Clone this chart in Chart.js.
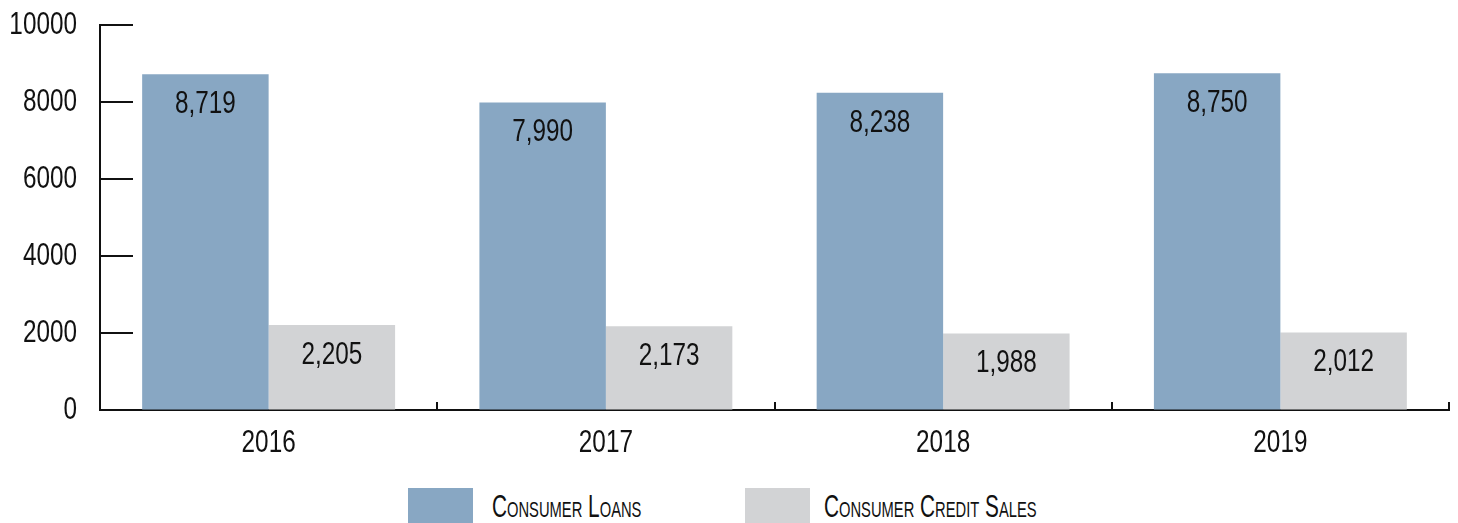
<!DOCTYPE html>
<html>
<head>
<meta charset="utf-8">
<script src="https://cdn.jsdelivr.net/npm/chart.js@4/dist/chart.umd.min.js"></script>
<style>
  html, body { margin: 0; padding: 0; background: #fff; overflow: hidden; }
  #wrap { position: relative; width: 1458px; height: 523px; }
  #holder { position: absolute; left: 0; top: 0; width: 1458px; height: 488px; }
  #legend { position: absolute; left: 0; top: 488px; width: 1458px; height: 35px; }
  .item { position: absolute; top: 0; height: 35px; }
  .box { position: absolute; left: 0; top: 0; width: 65px; height: 40px; }
  .txt { position: absolute; top: 0; line-height: 38px; white-space: nowrap;
         font-family: 'Liberation Sans', Arial, sans-serif;
         font-size: 31px; font-variant: small-caps; color: #111;
         transform: scaleX(0.67); transform-origin: left center; }
</style>
</head>
<body>
<div id="wrap">
  <div id="holder"><canvas id="chart"></canvas></div>
  <div id="legend"></div>
</div>
<script>
'use strict';
/*------------------------------------*\
     Données
\*------------------------------------*/
var annees = ['2016', '2017', '2018', '2019'];
var pretsConso = [8719, 7990, 8238, 8750];
var ventesCredit = [2205, 2173, 1988, 2012];
var nomsSeries = ['Consumer Loans', 'Consumer Credit Sales'];
var couleurs = ['#88a7c3', '#d2d3d5'];
var ticksY = [0, 2000, 4000, 6000, 8000, 10000];

var police = "'Liberation Sans', Arial, sans-serif";
var serrage = 0.76; // pas de police condensée : on resserre le texte

/*------------------------------------*\
     Plugin : texte resserré horizontalement
\*------------------------------------*/
var texteEtroit = {
  id: 'texteEtroit',
  beforeInit: function(chart) {
    var ctx = chart.ctx;
    var fill = ctx.fillText.bind(ctx);
    ctx.fillText = function(txt, x, y, maxW) {
      ctx.save();
      ctx.translate(x, y);
      ctx.scale(serrage, 1);
      if (maxW !== undefined) {
        fill(txt, 0, 0, maxW / serrage);
      } else {
        fill(txt, 0, 0);
      }
      ctx.restore();
    };
  }
};

/*------------------------------------*\
     Plugin : petits traits vers l'intérieur
\*------------------------------------*/
var traitsAxes = {
  id: 'traitsAxes',
  afterDraw: function(chart) {
    var ctx = chart.ctx;
    var y = chart.scales.y;
    var x = chart.scales.x;
    ctx.save();
    ctx.strokeStyle = '#111';
    ctx.lineWidth = 2;
    ctx.beginPath();
    ticksY.forEach(function(v) {
      var py = Math.round(y.getPixelForValue(v));
      ctx.moveTo(x.left, py);
      ctx.lineTo(x.left + 33, py);
    });
    // séparations entre années
    for (var i = 1; i <= annees.length; i++) {
      var px = Math.round(x.getPixelForValue(i - 0.5));
      ctx.moveTo(px, y.bottom);
      ctx.lineTo(px, y.bottom - 8);
    }
    ctx.stroke();
    ctx.restore();
  }
};

/*------------------------------------*\
     Plugin : valeurs dans les barres
\*------------------------------------*/
var valeursBarres = {
  id: 'valeursBarres',
  afterDatasetsDraw: function(chart) {
    var ctx = chart.ctx;
    ctx.save();
    ctx.font = '32px ' + police;
    ctx.fillStyle = '#111';
    ctx.textAlign = 'center';
    ctx.textBaseline = 'middle';
    chart.data.datasets.forEach(function(ds, i) {
      chart.getDatasetMeta(i).data.forEach(function(bar, j) {
        ctx.fillText(ds.data[j].toLocaleString('en-US'), bar.x, bar.y + 30);
      });
    });
    ctx.restore();
  }
};

var chart = new Chart(document.getElementById('chart'), {
  type: 'bar',
  data: {
    labels: annees,
    datasets: [{
      label: nomsSeries[0],
      data: pretsConso,
      backgroundColor: couleurs[0]
    }, {
      label: nomsSeries[1],
      data: ventesCredit,
      backgroundColor: couleurs[1]
    }]
  },
  options: {
    responsive: true,
    maintainAspectRatio: false,
    animation: false,
    layout: { padding: { top: 25, right: 9, left: 0, bottom: 0 } },
    datasets: { bar: { categoryPercentage: 0.75, barPercentage: 1 } },
    plugins: {
      legend: { display: false },
      tooltip: { enabled: false }
    },
    scales: {
      x: {
        grid: { display: true, drawOnChartArea: false, drawTicks: false },
        border: { display: true, color: '#111', width: 2 },
        ticks: { color: '#111', font: { family: police, size: 32 }, padding: 14 },
        afterFit: function(s) { s.height = 78; }
      },
      y: {
        min: 0,
        max: 10000,
        grid: { display: true, drawOnChartArea: false, drawTicks: false },
        border: { display: true, color: '#111', width: 2 },
        ticks: {
          stepSize: 2000,
          color: '#111',
          font: { family: police, size: 32 },
          padding: 23,
          callback: function(v) { return String(v); }
        },
        afterFit: function(s) {
          s.width = 100;
          s.paddingTop = 0;
          s.paddingBottom = 0;
        }
      }
    }
  },
  plugins: [texteEtroit, traitsAxes, valeursBarres]
});

/*------------------------------------*\
     Légende (HTML, petites capitales)
\*------------------------------------*/
var legende = document.getElementById('legend');
var posBoites = [408, 745];
var posTextes = [492, 824];
nomsSeries.forEach(function(nom, i) {
  var it = document.createElement('div');
  it.className = 'item';
  it.style.left = posBoites[i] + 'px';
  var b = document.createElement('div');
  b.className = 'box';
  b.style.background = couleurs[i];
  var t = document.createElement('div');
  t.className = 'txt';
  t.style.left = (posTextes[i] - posBoites[i]) + 'px';
  t.textContent = nom;
  it.appendChild(b);
  it.appendChild(t);
  legende.appendChild(it);
});
</script>
</body>
</html>
